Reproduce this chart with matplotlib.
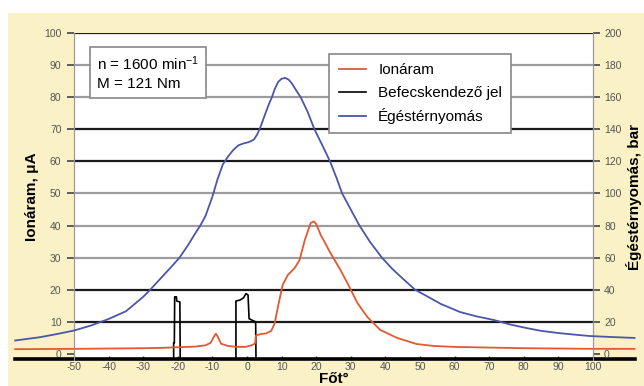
import matplotlib
matplotlib.use("Agg")
import matplotlib.pyplot as plt
import numpy as np
from matplotlib.patches import Rectangle

plt.rcParams['font.family'] = ['Liberation Sans', 'DejaVu Sans']
plt.rcParams['axes.unicode_minus'] = False
plt.rcParams['mathtext.default'] = 'regular'

# ---- data ----
x_ticks = [-50, -40, -30, -20, -10, 0, 10, 20, 30, 40, 50, 60, 70, 80, 90, 100]
left_ticks = [0, 10, 20, 30, 40, 50, 60, 70, 80, 90, 100]
right_ticks = [0, 20, 40, 60, 80, 100, 120, 140, 160, 180, 200]

# Égéstérnyomás (bar)
pres_x = [-67, -60, -55, -50, -45, -40, -35, -30, -28, -25, -22, -19.5, -17, -15, -13.5,
          -12, -10, -8.5, -7, -5.5, -4, -2.5, -1, 0.5, 2, 3, 4, 5, 6.2, 7.2, 8, 9, 10,
          11, 12, 13, 14, 15.5, 17.5, 19.5, 22, 24, 26, 27.5, 30, 32.5, 35.5, 39, 42, 45,
          48.6, 52, 56, 61.5, 66, 71.3, 76, 80.7, 85, 90.2, 95, 99, 105, 112]
pres_bar = [8.4, 10.4, 12.4, 14.6, 17.8, 21.8, 26.6, 35.6, 40, 47, 54, 60, 68, 75, 80,
            86, 98, 109, 118, 123, 127, 130, 131.2, 132, 133.6, 137, 142, 148, 155, 160,
            165, 169.5, 171.5, 172, 171, 168.5, 165, 160, 151, 140, 129, 120, 109, 100,
            90, 80, 70, 60, 53, 47, 40, 36, 31.2, 26.2, 23.6, 21.2, 18.4, 16.2, 14.4, 13,
            12, 11.2, 10.6, 10]

# Ionáram (µA)
ion_x = [-67, -50, -40, -30, -25, -20, -15, -12, -10.5, -9.5, -9, -8.5, -7.5, -5.5, -3,
         -0.5, 1, 2.3, 2.6, 4, 5.5, 7, 8, 9, 10.3, 11.8, 13.8, 15.2, 16.7, 18.4, 19.3, 20,
         21.3, 24.1, 27, 29.6, 31.9, 34.8, 38.5, 43.4, 49, 54, 60, 70, 80, 90, 100, 112]
ion_ua = [1.5, 1.6, 1.7, 1.8, 1.9, 2.1, 2.3, 2.7, 3.5, 5.5, 6.3, 5.5, 3.2, 2.5, 2.2,
          2.2, 2.6, 3.2, 5.8, 6.2, 6.4, 7.2, 9.5, 15, 21.5, 24.6, 26.8, 29.3, 35.5, 40.8,
          41.3, 40.5, 37.1, 31.5, 26.2, 20.9, 15.9, 11.5, 7.5, 5.0, 3.1, 2.5, 2.2, 2.0,
          1.8, 1.7, 1.6, 1.6]

# Befecskendező jel
inj_x = [-67, -21.2, -21.2, -21.0, -20.9, -20.4, -20.3, -19.4, -19.3, -3.2, -3.2, -2.0,
         -1.0, -0.3, 0.3, 0.6, 1.5, 2.5, 2.6, 112]
inj_y = [-1.6, -1.6, 3.5, 3.5, 17.8, 17.8, 16.5, 16.2, -1.6, -1.6, 16.5, 16.8,
         17.5, 18.8, 18.4, 11.0, 10.5, 10.0, -1.6, -1.6]

labels = ['Ionáram', 'Befecskendező jel', 'Égéstérnyomás']
c_red = '#E05A30'
c_blue = '#4B56A8'
c_black = '#000000'

# ---- figure ----
fig = plt.figure(figsize=(6.44, 3.86), dpi=100)
fig.patch.set_facecolor('white')
fig.patches.append(Rectangle((8 / 644, 0), 1, 1 - 13 / 386, transform=fig.transFigure,
                             facecolor='#FAF1C6', edgecolor='none', zorder=-10))

ax = fig.add_axes([74 / 644, 1 - 360.4 / 386, 519 / 644, 327.4 / 386])
ax.set_facecolor('white')
ax.set_xlim(-50, 100)
ax.set_ylim(-2, 100)
ax2 = ax.twinx()
ax2.set_ylim(-4, 200)

# gridlines
grid_dark = {10, 20, 60, 70, 100}
for v in left_ticks[1:]:
    ax.axhline(v, color='#1a1a1a' if v in grid_dark else '#9c9c9c', lw=1.6, zorder=1)

for a in (ax, ax2):
    for s in ('top', 'bottom'):
        a.spines[s].set_visible(False)
    a.spines['left'].set_color('#9a9a9a')
    a.spines['right'].set_color('#9a9a9a')

ax.set_xticks(x_ticks)
ax.set_xticklabels([str(t) for t in x_ticks])
ax.set_yticks(left_ticks)
ax2.set_yticks(right_ticks)
ax.tick_params(axis='x', direction='in', length=3, width=1, color='#333333',
               labelsize=7.5, labelcolor='#555555', pad=1.5)
ax.tick_params(axis='y', direction='out', length=5, width=1.2, color='#444444',
               labelsize=7.5, labelcolor='#555555', pad=4)
ax2.tick_params(axis='y', direction='out', length=5, width=1.2, color='#444444',
                labelsize=7.5, labelcolor='#555555', pad=3)

# data lines
base = min(inj_y)
ax.plot([inj_x[0], inj_x[-1]], [base, base], color=c_black, lw=2.6, clip_on=False, zorder=3)
l_inj, = ax.plot(inj_x, inj_y, color=c_black, lw=1.2, clip_on=False, zorder=4)
l_ion, = ax.plot(ion_x, ion_ua, color=c_red, lw=1.3, clip_on=False, zorder=5)
l_pres, = ax2.plot(pres_x, pres_bar, color=c_blue, lw=1.3, clip_on=False, zorder=5)

ax.set_ylabel('Ionáram, μA', fontsize=11, fontweight='bold', labelpad=4)
ax2.set_ylabel('Égéstérnyomás, bar', fontsize=11, fontweight='bold', labelpad=3)
ax.set_xlabel('Főt°', fontsize=11, fontweight='bold', labelpad=0)

leg = ax2.legend([l_ion, l_inj, l_pres], labels, loc='upper left',
                 bbox_to_anchor=(0.492, 0.935), fancybox=False, framealpha=1,
                 edgecolor='#888888', fontsize=11, handlelength=1.8,
                 labelspacing=0.55, borderpad=0.6, borderaxespad=0)
leg.get_frame().set_linewidth(1.2)
leg.set_zorder(10)

ax2.text(0.044, 0.935,
         'n = 1600 min$^{-1}$\nM = 121 Nm', transform=ax2.transAxes,
         fontsize=11, va='top', ha='left', linespacing=1.4, zorder=10,
         bbox=dict(boxstyle='square,pad=0.45', facecolor='white', edgecolor='#888888', lw=1.2))

fig.savefig('out.png', dpi=100)
